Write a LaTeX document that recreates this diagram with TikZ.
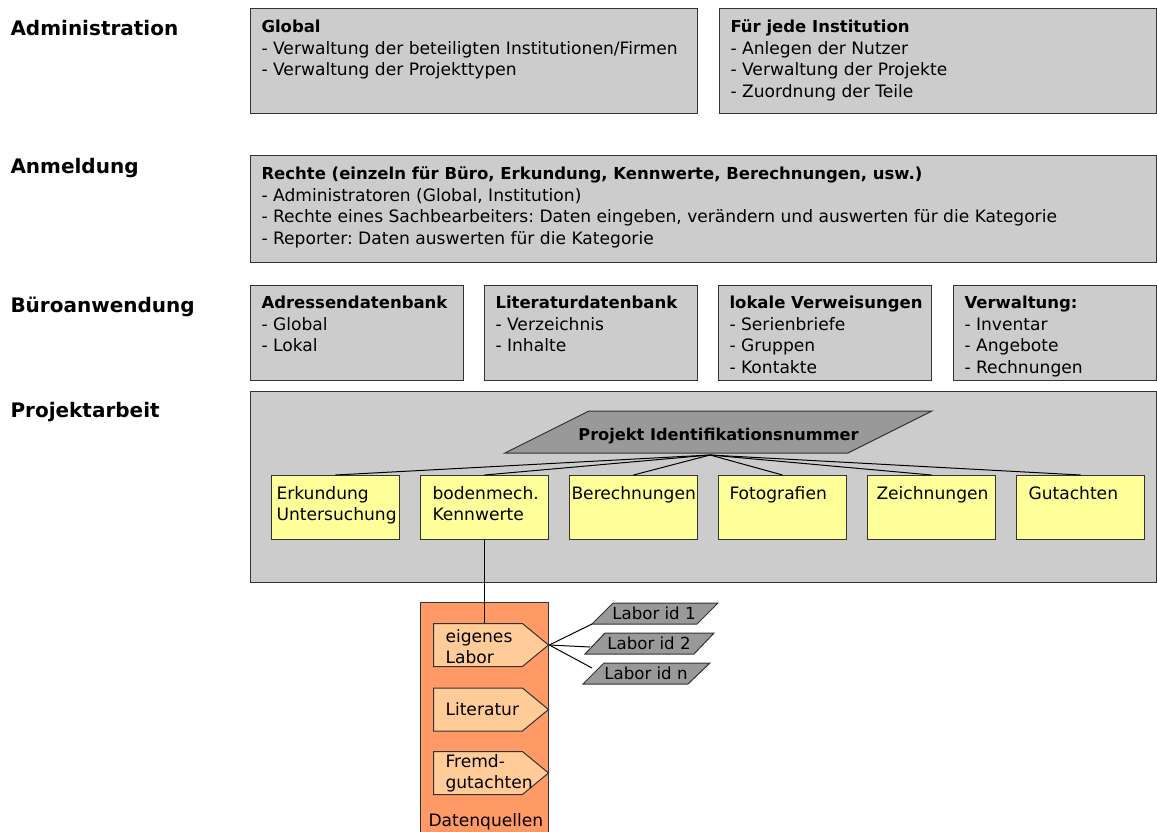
\documentclass[tikz,border=0pt]{standalone}
\usepackage{fontspec}
\setmainfont{DejaVu Sans}
\usetikzlibrary{shapes.symbols}
\definecolor{boxgray}{HTML}{CCCCCC}
\definecolor{idgray}{HTML}{999999}
\definecolor{noteyellow}{HTML}{FFFF99}
\definecolor{srcorange}{HTML}{FF9966}
\definecolor{srclight}{HTML}{FFCC99}
\definecolor{edgegray}{HTML}{333333}
\newcommand{\boxhead}[1]{{\fontsize{16.5}{21.5}\selectfont\bfseries #1}}
\frenchspacing
\begin{document}
\begin{tikzpicture}[x=1pt, y=-1pt, line width=1pt,
    section/.style={anchor=base west, inner sep=0, font=\fontsize{20}{24}\selectfont\bfseries},
    area/.style={draw=edgegray, fill=boxgray, anchor=north west, inner sep=0},
    boxtext/.style={anchor=north west, inner sep=0, align=left,
                    font=\fontsize{17.1}{21.5}\selectfont},
    part/.style={draw=edgegray, fill=noteyellow, anchor=north west, inner sep=0,
                 minimum width=128, minimum height=64},
    parttext/.style={anchor=north west, inner sep=0, align=left,
                     font=\fontsize{17.1}{21}\selectfont},
    source/.style={shape=signal, signal to=east, draw=edgegray, fill=srclight,
                   anchor=west, inner sep=0, minimum width=115, minimum height=43,
                   signal pointer angle=79},
    sourcetext/.style={anchor=west, inner sep=0, align=left,
                       font=\fontsize{17.1}{21}\selectfont},
    idshape/.style={draw=edgegray, fill=idgray},
    idtext/.style={inner sep=0, font=\fontsize{16.6}{20}\selectfont}]
	\useasboundingbox (0,0) rectangle (1157,831);

	% Ebenen
	\node[section] (adm) at (10, 35) {Administration};
	\node[section] (anm) at (10, 173) {Anmeldung};
	\node[section] (bue) at (10, 312) {Büroanwendung};
	\node[section] (pro) at (10, 417) {Projektarbeit};

	% Administration
	\node[area, minimum width=447, minimum height=105] (glob) at (250, 8) {};
	\node[boxtext] (globt) at (261, 17) {\strut\boxhead{Global}\\- Verwaltung der beteiligten Institutionen/Firmen\\- Verwaltung der Projekttypen};
	\node[area, minimum width=437, minimum height=105] (inst) at (719, 8) {};
	\node[boxtext] (instt) at (730, 17) {\strut\boxhead{Für jede Institution}\\- Anlegen der Nutzer\\- Verwaltung der Projekte\\- Zuordnung der Teile};

	% Anmeldung
	\node[area, minimum width=906, minimum height=107] (rech) at (250, 155) {};
	\node[boxtext] (recht) at (261, 164) {\strut\boxhead{Rechte (einzeln für Büro, Erkundung, Kennwerte, Berechnungen, usw.)}\\- Administratoren (Global, Institution)\\- Rechte eines Sachbearbeiters: Daten eingeben, verändern und auswerten für die Kategorie\\- Reporter: Daten auswerten für die Kategorie};

	% Bueroanwendung
	\node[area, minimum width=213, minimum height=95] (adr) at (250, 285) {};
	\node[boxtext] (adrt) at (261, 293) {\strut\boxhead{Adressendatenbank}\\- Global\\- Lokal};
	\node[area, minimum width=213, minimum height=95] (lit) at (484, 285) {};
	\node[boxtext] (litt) at (495, 293) {\strut\boxhead{Literaturdatenbank}\\- Verzeichnis\\- Inhalte};
	\node[area, minimum width=213, minimum height=95] (verw) at (718, 285) {};
	\node[boxtext] (verwt) at (729, 293) {\strut\boxhead{lokale Verweisungen}\\- Serienbriefe\\- Gruppen\\- Kontakte};
	\node[area, minimum width=203, minimum height=95] (verk) at (953, 285) {};
	\node[boxtext] (verkt) at (964, 293) {\strut\boxhead{Verwaltung:}\\- Inventar\\- Angebote\\- Rechnungen};

	% Projektarbeit
	\node[area, minimum width=906, minimum height=191] (proj) at (250, 391) {};
	\filldraw[idshape] (589, 411) -- (932, 411) -- (848, 453) -- (505, 453) -- cycle;
	\node[anchor=base, inner sep=0, font=\fontsize{16.2}{20}\selectfont\bfseries] (pid) at (718.5, 440) {Projekt Identifikationsnummer};
	\coordinate (pidc) at (710, 455);

	\node[part] (erk) at (271, 475) {};
	\node[part] (bod) at (420, 475) {};
	\node[part] (ber) at (569, 475) {};
	\node[part] (fot) at (718, 475) {};
	\node[part] (zei) at (867, 475) {};
	\node[part] (gut) at (1016, 475) {};
	\node[parttext] (erkt) at (276, 484) {\strut Erkundung\\Untersuchung};
	\node[parttext] (bodt) at (432, 484) {\strut bodenmech.\\Kennwerte};
	\node[parttext] (bert) at (571, 484) {\strut Berechnungen};
	\node[parttext] (fott) at (729, 484) {\strut Fotografien};
	\node[parttext] (zeit) at (876, 484) {\strut Zeichnungen};
	\node[parttext] (gutt) at (1028, 484) {\strut Gutachten};

	\path[draw=black] (pidc) edge (erk.north);
	\path[draw=black] (pidc) edge (bod.north);
	\path[draw=black] (pidc) edge (ber.north);
	\path[draw=black] (pidc) edge (fot.north);
	\path[draw=black] (pidc) edge (zei.north);
	\path[draw=black] (pidc) edge (gut.north);

	% Datenquellen
	\node[area, fill=srcorange, minimum width=128, minimum height=240] (dq) at (420, 602) {};
	\node[anchor=base west, inner sep=0, font=\fontsize{17.1}{20}\selectfont] (dqt) at (428, 826) {Datenquellen};
	\node[source] (lab) at (433, 645) {};
	\node[source] (litq) at (433, 709.5) {};
	\node[source] (fremd) at (433, 773) {};
	\node[sourcetext] (labt) at ([xshift=12, yshift=-2]lab.west) {eigenes\\Labor};
	\node[sourcetext] (litqt) at ([xshift=12]litq.west) {Literatur};
	\node[sourcetext] (fremdt) at ([xshift=12]fremd.west) {Fremd-\\gutachten};
	\draw[black] (bod.south) -- (bod.south |- lab.north);

	% Labore
	\filldraw[idshape] (613, 603) -- (718, 603) -- (697, 624) -- (592, 624) -- cycle;
	\filldraw[idshape] (605, 633) -- (714, 633) -- (694, 654) -- (585, 654) -- cycle;
	\filldraw[idshape] (604, 663) -- (710, 663) -- (688, 684) -- (583, 684) -- cycle;
	\node[idtext] (id1) at (654, 613.5) {Labor id 1};
	\node[idtext] (id2) at (649, 643.5) {Labor id 2};
	\node[idtext] (idn) at (646, 673.5) {Labor id n};
	\coordinate (id1in) at (592, 624);
	\coordinate (id2in) at (590, 647);
	\coordinate (idnin) at (592, 668);
	\path[draw=black] (lab.east) edge (id1in);
	\path[draw=black] (lab.east) edge (id2in);
	\path[draw=black] (lab.east) edge (idnin);
\end{tikzpicture}
\end{document}
